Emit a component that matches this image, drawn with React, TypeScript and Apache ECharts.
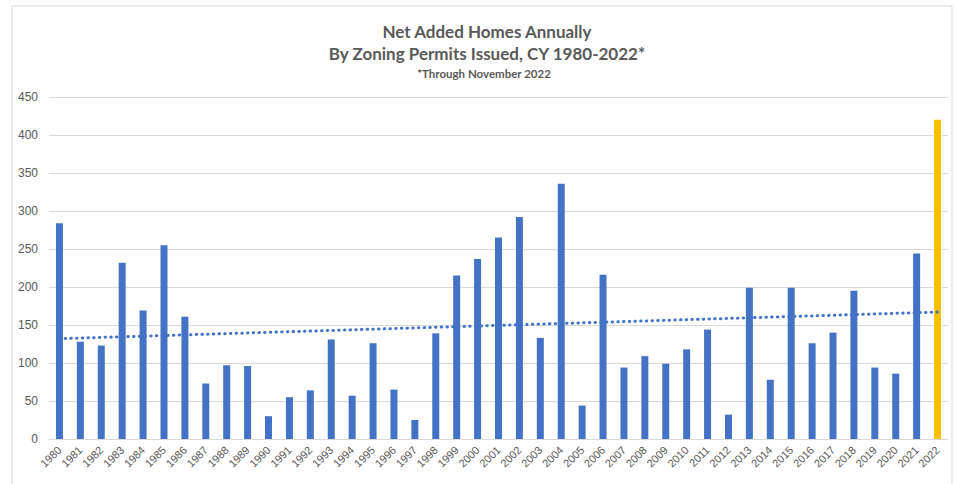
import React, { useEffect, useRef } from "react";
import * as echarts from "echarts";

const years: string[] = [
  "1980","1981","1982","1983","1984","1985","1986","1987","1988","1989",
  "1990","1991","1992","1993","1994","1995","1996","1997","1998","1999",
  "2000","2001","2002","2003","2004","2005","2006","2007","2008","2009",
  "2010","2011","2012","2013","2014","2015","2016","2017","2018","2019",
  "2020","2021","2022",
];
const netHomes: number[] = [
  284, 128, 123, 232, 169, 255, 161, 73, 97, 96,
  30, 55, 64, 131, 57, 126, 65, 25, 139, 215,
  237, 265, 292, 133, 336, 44, 216, 94, 109, 99,
  118, 144, 32, 199, 78, 199, 126, 140, 195, 94,
  86, 244, 420,
];
const trendStart = 132;
const trendEnd = 167;
const yTicks = { min: 0, max: 450, interval: 50 };
const titleLines: string[] = [
  "Net Added Homes Annually",
  "By Zoning Permits Issued, CY 1980-2022*",
];
const subtitle = "*Through November 2022";

const BLUE = "#4472C4";
const GOLD = "#FFC000";
const TEXT = "#595959";

export default function App() {
  const ref = useRef<HTMLDivElement>(null);
  useEffect(() => {
    if (!ref.current) return;
    const chart = echarts.init(ref.current, undefined, { renderer: "svg" });
    const lastIdx = years.length - 1;
    const trendData = years.map((_, i) => (i === 0 ? trendStart : i === lastIdx ? trendEnd : null));
    const titleStyle = { fontFamily: "Lato", fontWeight: "bold", fontSize: 17, fill: TEXT };
    chart.setOption({
      animation: false,
      backgroundColor: "#ffffff",
      graphic: [
        {
          type: "rect",
          shape: { x: 12, y: 6, width: 940, height: 500 },
          style: { fill: "none", stroke: "#d9d9d9", lineWidth: 1 },
          silent: true,
        },
        {
          type: "text",
          x: 487,
          y: 31,
          style: { ...titleStyle, text: titleLines[0], textAlign: "center", textVerticalAlign: "middle" },
        },
        {
          type: "text",
          x: 487,
          y: 53,
          style: { ...titleStyle, text: titleLines[1], textAlign: "center", textVerticalAlign: "middle" },
        },
        {
          type: "text",
          x: 484,
          y: 73,
          style: {
            fontFamily: "Lato",
            fontWeight: "bold",
            fontSize: 11.5,
            fill: TEXT,
            text: subtitle,
            textAlign: "center",
            textVerticalAlign: "middle",
          },
        },
      ],
      grid: { left: 49, right: 9, top: 97, bottom: 45, containLabel: false },
      xAxis: {
        type: "category",
        data: years,
        axisLine: { show: true, lineStyle: { color: "#d9d9d9" } },
        axisTick: { show: false },
        axisLabel: {
          rotate: 45,
          interval: 0,
          color: TEXT,
          fontSize: 11,
          fontFamily: "Liberation Sans",
          margin: 9,
        },
      },
      yAxis: {
        type: "value",
        min: yTicks.min,
        max: yTicks.max,
        interval: yTicks.interval,
        axisLine: { show: false },
        axisTick: { show: false },
        splitLine: { lineStyle: { color: "#d9d9d9" } },
        axisLabel: { color: TEXT, fontSize: 12, fontFamily: "Liberation Sans", margin: 11 },
      },
      series: [
        {
          type: "bar",
          data: netHomes.map((v, i) => ({
            value: v,
            itemStyle: { color: i === lastIdx ? GOLD : BLUE },
          })),
          barWidth: 7,
        },
        {
          type: "line",
          data: trendData,
          connectNulls: true,
          symbol: "none",
          lineStyle: { color: BLUE, width: 3, type: [0.5, 5.2], cap: "round" },
          z: 5,
        },
      ],
    });
    return () => chart.dispose();
  }, []);
  return (
    <div
      ref={ref}
      style={{ position: "absolute", left: 0, top: 0, width: 957, height: 484 }}
    />
  );
}
